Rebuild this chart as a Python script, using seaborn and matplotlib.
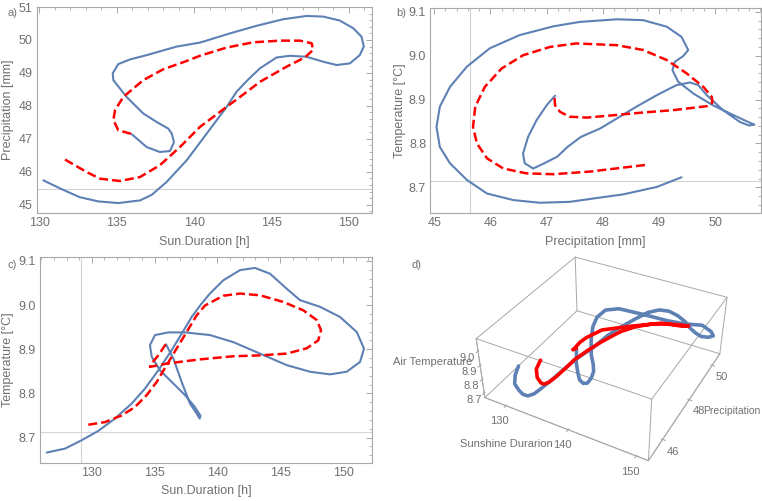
import itertools

import matplotlib
matplotlib.use("Agg")
import matplotlib.pyplot as plt
import seaborn as sns
from matplotlib.ticker import FormatStrFormatter, MultipleLocator

# ── Theme ────────────────────────────────────────────────────────────

sns.set_style("white")
plt.rcParams["font.family"] = ["Liberation Sans", "DejaVu Sans"]

BLUE = "#5E81B5"
RED = "#FF0000"
FRAME = "#a8a8a8"
TEXT = "#707070"
AXLINE = "#d4d4d4"

# ── Data ─────────────────────────────────────────────────────────────

# a) Sunshine duration vs precipitation
a_blue_sun = [130.26, 131.45, 132.6, 133.81, 135.1, 136.5, 137.26, 138.22, 139.52,
              140.81, 142.1, 142.74, 143.49, 144.25, 145.33, 146.19, 147.26, 148.34,
              149.2, 150.06, 150.7, 150.96, 150.81, 150.27, 149.41, 148.34, 147.26,
              145.75, 144.03, 142.31, 140.37, 138.87, 136.93, 135.86, 135.1, 134.74,
              134.78, 135.64, 136.71, 137.58, 138.33, 138.55, 138.7, 138.44, 137.79,
              136.93, 135.97]
a_blue_prec = [45.74, 45.47, 45.23, 45.10, 45.05, 45.13, 45.30, 45.69, 46.35,
               47.16, 47.97, 48.43, 48.80, 49.14, 49.47, 49.52, 49.49, 49.34,
               49.24, 49.29, 49.54, 49.80, 50.10, 50.36, 50.59, 50.71, 50.73,
               50.63, 50.43, 50.20, 49.92, 49.80, 49.54, 49.41, 49.27, 48.99,
               48.78, 48.27, 47.77, 47.51, 47.31, 47.16, 46.90, 46.63, 46.60,
               46.75, 47.14]
a_red_sun = [131.66, 133.06, 133.92, 135.21, 136.5, 137.79, 139.08, 140.37, 141.67,
             142.96, 144.25, 145.97, 147.15, 147.69, 147.59, 146.83, 145.54, 143.82,
             142.1, 140.37, 139.5, 138.0, 136.71, 135.42, 134.89, 134.78, 135.1,
             135.86, 135.97]
a_red_prec = [46.37, 45.99, 45.79, 45.72, 45.84, 46.20, 46.75, 47.36, 47.82,
              48.27, 48.73, 49.19, 49.47, 49.70, 49.90, 49.98, 49.98, 49.93,
              49.77, 49.52, 49.36, 49.11, 48.78, 48.27, 47.87, 47.57, 47.26,
              47.16, 47.14]

# b) Precipitation vs temperature
b_blue_prec = [49.40, 48.96, 48.36, 47.85, 47.41, 46.88, 46.41, 45.94, 45.58, 45.28,
               45.10, 45.04, 45.10, 45.28, 45.58, 45.99, 46.52, 47.12, 47.59, 48.25,
               48.72, 49.14, 49.40, 49.52, 49.43, 49.28, 49.24, 49.34, 49.61, 49.96,
               50.32, 50.62, 50.70, 50.60, 50.44, 50.14, 49.85, 49.70, 49.55, 49.31,
               48.96, 48.60, 48.25, 47.95, 47.61, 47.37, 47.19, 46.96, 46.76, 46.61,
               46.58, 46.67, 46.82, 47.00, 47.15]
b_blue_temp = [8.723, 8.701, 8.684, 8.675, 8.667, 8.665, 8.671, 8.686, 8.717, 8.755,
               8.792, 8.838, 8.884, 8.929, 8.975, 9.017, 9.047, 9.067, 9.077, 9.083,
               9.081, 9.066, 9.043, 9.013, 8.999, 8.986, 8.967, 8.941, 8.914, 8.887,
               8.865, 8.847, 8.843, 8.841, 8.849, 8.876, 8.910, 8.933, 8.939, 8.933,
               8.910, 8.884, 8.857, 8.834, 8.815, 8.792, 8.770, 8.755, 8.743, 8.755,
               8.777, 8.815, 8.853, 8.887, 8.909]
b_red_prec = [48.75, 48.36, 47.77, 47.12, 46.64, 46.23, 45.94, 45.76, 45.69, 45.73,
              45.90, 46.20, 46.58, 47.06, 47.53, 48.25, 48.72, 49.14, 49.49, 49.79,
              49.94, 49.95, 49.85, 49.25, 48.66, 48.07, 47.71, 47.41, 47.24, 47.15,
              47.14]
b_red_temp = [8.751, 8.745, 8.736, 8.730, 8.732, 8.743, 8.766, 8.800, 8.838, 8.884,
              8.929, 8.971, 9.001, 9.020, 9.028, 9.024, 9.013, 8.990, 8.960, 8.929,
              8.906, 8.893, 8.885, 8.876, 8.870, 8.863, 8.859, 8.861, 8.872, 8.887,
              8.906]

# c) Sunshine duration vs temperature
c_blue_sun = [126.42, 127.88, 129.21, 130.52, 131.85, 133.18, 134.24, 135.29, 136.36,
              137.15, 137.95, 138.7, 139.40, 140.46, 141.79, 142.98, 144.17, 145.50,
              146.56, 148.15, 149.74, 151.07, 151.65, 151.33, 150.27, 148.94, 147.35,
              145.50, 143.38, 141.26, 139.40, 137.42, 136.09, 135.03, 134.63, 134.77,
              135.43, 136.36, 137.42, 138.21, 138.65, 138.58, 138.35, 137.81, 137.15,
              136.49, 135.91]
c_blue_temp = [8.666, 8.675, 8.694, 8.715, 8.743, 8.777, 8.811, 8.852, 8.898,
               8.935, 8.973, 9.002, 9.026, 9.056, 9.079, 9.084, 9.071, 9.037,
               9.011, 8.996, 8.973, 8.939, 8.901, 8.871, 8.849, 8.843, 8.849,
               8.864, 8.890, 8.916, 8.932, 8.938, 8.938, 8.932, 8.909, 8.883,
               8.852, 8.826, 8.796, 8.769, 8.749, 8.743, 8.754, 8.777, 8.826,
               8.879, 8.911]
c_red_sun = [129.73, 131.06, 132.38, 133.44, 134.37, 135.17, 135.96, 136.76, 137.55,
             138.35, 139.01, 140.46, 141.79, 143.38, 145.23, 146.82, 147.89, 148.23,
             148.01, 147.09, 145.50, 143.38, 141.26, 138.61, 136.09, 134.63, 134.77,
             135.29, 135.88]
c_red_temp = [8.729, 8.735, 8.750, 8.769, 8.796, 8.826, 8.864, 8.902, 8.939,
              8.977, 8.999, 9.021, 9.026, 9.022, 9.007, 8.988, 8.966, 8.943,
              8.920, 8.902, 8.890, 8.886, 8.884, 8.877, 8.868, 8.860, 8.868,
              8.886, 8.911]

# d) 3D trajectory (sunshine, precipitation, temperature)
d_blue_sun = [126.42, 127.3, 128.7, 130.6, 132.3, 133.7, 135.0, 136.0, 137.0, 138.0,
              139.0, 140.2, 140.9, 141.6, 142.7, 143.4, 144.3, 145.3, 146.5, 147.8,
              148.8, 149.8, 150.5, 151.2, 151.4, 150.5, 148.5, 146.0, 143.8, 140.8,
              137.0, 135.3, 134.7, 134.9, 135.5, 136.2, 137.1, 138.0, 138.5, 138.7,
              138.6, 138.3, 137.8, 137.3, 136.7, 136.3, 135.9]
d_blue_prec = [46.88, 46.41, 45.94, 45.58, 45.28, 45.10, 45.04, 45.10, 45.28, 45.58,
               45.99, 46.52, 47.12, 47.59, 48.25, 48.72, 49.14, 49.40, 49.52, 49.43,
               49.28, 49.24, 49.34, 49.61, 49.96, 50.32, 50.69, 50.44, 50.14, 49.85,
               49.55, 49.31, 48.96, 48.60, 48.25, 47.95, 47.61, 47.37, 47.19, 46.96,
               46.75, 46.61, 46.58, 46.67, 46.82, 47.00, 47.15]
d_blue_temp = [8.665, 8.671, 8.686, 8.717, 8.755, 8.792, 8.838, 8.884, 8.929, 8.975,
               9.017, 9.047, 9.067, 9.077, 9.083, 9.081, 9.066, 9.043, 9.013, 8.999,
               8.986, 8.967, 8.941, 8.914, 8.887, 8.865, 8.844, 8.849, 8.876, 8.910,
               8.939, 8.933, 8.910, 8.884, 8.857, 8.834, 8.815, 8.792, 8.770, 8.755,
               8.743, 8.755, 8.777, 8.815, 8.853, 8.887, 8.909]
d_red_sun = [129.73, 130.4, 131.8, 133.3, 134.4, 135.4, 136.4, 137.3, 138.1, 139.1,
             140.1, 141.0, 141.4, 142.6, 144.2, 146.0, 147.2, 147.8, 147.3, 146.6,
             143.5, 139.6, 136.3, 135.1, 134.8, 134.9, 135.1, 135.3, 135.9]
d_red_prec = [47.12, 46.64, 46.23, 45.94, 45.76, 45.69, 45.73, 45.90, 46.20, 46.58,
              47.06, 47.53, 47.77, 48.25, 48.72, 49.14, 49.49, 49.79, 49.94, 49.95,
              49.85, 49.25, 48.66, 48.07, 47.77, 47.41, 47.24, 47.15, 47.14]
d_red_temp = [8.730, 8.732, 8.743, 8.766, 8.800, 8.838, 8.884, 8.929, 8.971, 9.001,
              9.020, 9.028, 9.028, 9.024, 9.013, 8.990, 8.960, 8.929, 8.906, 8.893,
              8.885, 8.876, 8.870, 8.863, 8.859, 8.861, 8.872, 8.887, 8.906]

# axis-origin lines Mathematica draws inside the frames
a_hline = 45.49
b_vline, b_hline = 45.64, 8.714
c_vline, c_hline = 129.17, 8.713


# ── Helpers ──────────────────────────────────────────────────────────

def draw_pair(ax, bx, by, rx, ry):
    sns.lineplot(x=bx, y=by, sort=False, estimator=None, ax=ax,
                 color=BLUE, lw=1.5)
    sns.lineplot(x=rx, y=ry, sort=False, estimator=None, ax=ax,
                 color=RED, lw=1.8, linestyle=(0, (3.6, 1.6)))


def style_frame(ax, xlim, ylim, xstep, ystep, yfmt, xlabel, ylabel,
                ylab_x, xlab_y):
    ax.set_xlim(*xlim)
    ax.set_ylim(*ylim)
    ax.xaxis.set_major_locator(MultipleLocator(xstep))
    ax.xaxis.set_minor_locator(MultipleLocator(xstep / 5))
    ax.yaxis.set_major_locator(MultipleLocator(ystep))
    ax.yaxis.set_minor_locator(MultipleLocator(ystep / 5))
    ax.yaxis.set_major_formatter(FormatStrFormatter(yfmt))
    ax.xaxis.set_major_formatter(FormatStrFormatter("%d"))
    ax.tick_params(which="both", direction="in", top=True, right=True,
                   color=FRAME, labelcolor=TEXT, labelsize=9, pad=3)
    ax.tick_params(which="major", length=4, width=0.7)
    ax.tick_params(which="minor", length=2.2, width=0.6)
    for sp in ax.spines.values():
        sp.set_color(FRAME)
        sp.set_linewidth(0.8)
    ax.set_xlabel(xlabel, color=TEXT, fontsize=9)
    ax.set_ylabel(ylabel, color=TEXT, fontsize=9)
    ax.yaxis.set_label_coords(ylab_x, 0.5)
    ax.xaxis.set_label_coords(0.5, xlab_y)


# ── Figure ───────────────────────────────────────────────────────────

fig = plt.figure(figsize=(7.62, 5.01), dpi=100)

ax_a = fig.add_axes([0.0482, 0.5743, 0.4396, 0.4123])
ax_a.axhline(a_hline, color=AXLINE, lw=0.8, zorder=0)
draw_pair(ax_a, a_blue_sun, a_blue_prec, a_red_sun, a_red_prec)
style_frame(ax_a, (129.83, 151.47), (44.74, 51.01), 5, 1, "%d",
            "Sun.Duration [h]", "Precipitation [mm]", -0.068, -0.11)

ax_b = fig.add_axes([0.5647, 0.5743, 0.4336, 0.4091])
ax_b.axvline(b_vline, color=AXLINE, lw=0.8, zorder=0)
ax_b.axhline(b_hline, color=AXLINE, lw=0.8, zorder=0)
draw_pair(ax_b, b_blue_prec, b_blue_temp, b_red_prec, b_red_temp)
style_frame(ax_b, (44.93, 50.81), (8.641, 9.108), 1, 0.1, "%.1f",
            "Precipitation [mm]", "Temperature [°C]", -0.0735, -0.11)

ax_c = fig.add_axes([0.0525, 0.0764, 0.4353, 0.4100])
ax_c.axvline(c_vline, color=AXLINE, lw=0.8, zorder=0)
ax_c.axhline(c_hline, color=AXLINE, lw=0.8, zorder=0)
draw_pair(ax_c, c_blue_sun, c_blue_temp, c_red_sun, c_red_temp)
style_frame(ax_c, (125.89, 152.26), (8.643, 9.108), 5, 0.1, "%.1f",
            "Sun.Duration [h]", "Temperature [°C]", -0.078, -0.1086)

# 3D panel
ax_d = fig.add_axes([0.5425, 0.0356, 0.50, 0.53], projection="3d")
ax_d.set_proj_type("persp", focal_length=0.45)
ax_d.view_init(elev=36.2, azim=-61.6)
ax_d.set_box_aspect((1, 1, 0.4), zoom=0.96)
xl, yl, zl = (126.4, 151.7), (45.04, 50.73), (8.665, 9.083)
ax_d.set_xlim(*xl)
ax_d.set_ylim(*yl)
ax_d.set_zlim(*zl)
ax_d.set_facecolor((1, 1, 1, 0))
ax_d.grid(False)
for axis in (ax_d.xaxis, ax_d.yaxis, ax_d.zaxis):
    axis.set_pane_color((1, 1, 1, 0))
    axis.pane.set_edgecolor((1, 1, 1, 0))
    axis.line.set_color(FRAME)
    axis.line.set_linewidth(0.7)
ax_d.zaxis.set_ticks_position("lower")
ax_d.set_xticks([130, 140, 150])
ax_d.set_yticks([46, 48, 50])
ax_d.set_zticks([8.7, 8.8, 8.9, 9.0])
ax_d.zaxis.set_major_formatter(FormatStrFormatter("%.1f"))
ax_d.tick_params(colors=FRAME, labelcolor=TEXT, labelsize=8, pad=-2)
ax_d.tick_params(axis="z", pad=-4)

# box edges
for p, q in itertools.combinations(itertools.product(xl, yl, zl), 2):
    if sum(a != b for a, b in zip(p, q)) == 1:
        ax_d.plot(*zip(p, q), color=FRAME, lw=0.7)

ax_d.plot(d_blue_sun, d_blue_prec, d_blue_temp, color=BLUE, lw=2.6,
          solid_capstyle="round")
ax_d.plot(d_red_sun, d_red_prec, d_red_temp, color=RED, lw=2.6,
          solid_capstyle="round")

# labels
lab = dict(color=TEXT, fontsize=8)
fig.text(12 / 762, 1 - 13 / 501, "a)", ha="center", va="center", **lab)
fig.text(401 / 762, 1 - 13 / 501, "b)", ha="center", va="center", **lab)
fig.text(12 / 762, 1 - 265 / 501, "c)", ha="center", va="center", **lab)
fig.text(416 / 762, 1 - 265 / 501, "d)", ha="center", va="center", **lab)
fig.text(393 / 762, 1 - 362 / 501, "Air Temperature", ha="left", va="center", **lab)
fig.text(553 / 762, 1 - 444 / 501, "Sunshine Durarion", ha="right", va="center", **lab)
fig.text(703 / 762, 1 - 411 / 501, "Precipitation", ha="left", va="center",
         color=TEXT, fontsize=7.5)

fig.savefig("out.png", dpi=100)
